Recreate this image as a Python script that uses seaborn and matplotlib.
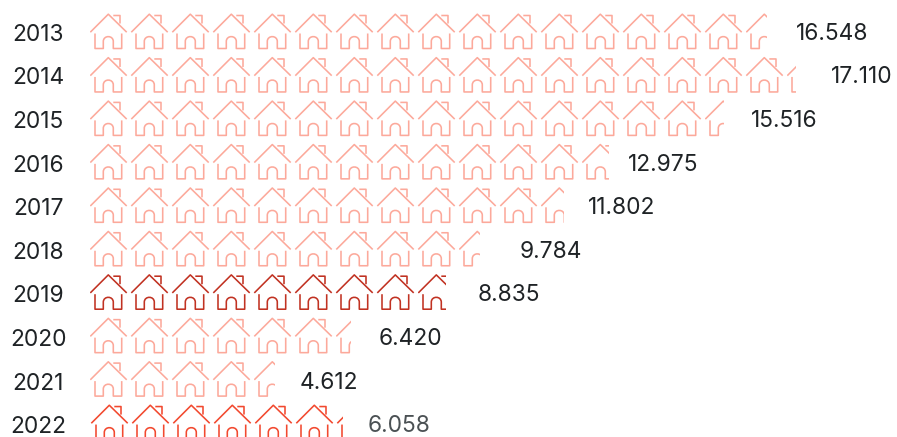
import numpy as np
import pandas as pd
import matplotlib
matplotlib.use("Agg")
import matplotlib.pyplot as plt
from matplotlib.path import Path
from matplotlib.patches import PathPatch, Rectangle
from matplotlib.transforms import ScaledTranslation
import seaborn as sn

years = ["2013", "2014", "2015", "2016", "2017", "2018", "2019", "2020", "2021", "2022"]
values = [16.548, 17.110, 15.516, 12.975, 11.802, 9.784, 8.835, 6.420, 4.612, 6.058]

# how much of the last house is shown, and gap before the label (pixels)
last_house_px = [21, 9, 19, 27, 23, 21, 28, 15, 21, 6]
label_gap_px = [27.5, 39.5, 24.8, 6, 14, 28, 25, 25, 21, 29]

light = "#fca99b"
colors = {"2019": "#c13222", "2022": "#f2492f"}

sn.set_theme(style="white")
plt.rcParams["font.family"] = ["Inter", "DejaVu Sans"]

HOUSE_STEP = 41.0
ROW_STEP = 43.45

# house icon drawn in pixels, 37 wide and 35 high
M, L, C = Path.MOVETO, Path.LINETO, Path.CURVE4
house = [
    # roof
    ((0.3, 18.7), M), ((18.3, 0.7), L), ((36.7, 18.7), L),
    # chimney
    ((23.3, 2.0), M), ((30.0, 2.0), L), ((30.0, 10.0), L),
    # walls and door
    ((5.0, 20.0), M), ((5.0, 35.0), L), ((13.3, 35.0), L), ((13.3, 28.0), L),
    ((13.3, 21.5), C), ((23.3, 21.5), C), ((23.3, 28.0), C),
    ((23.3, 35.0), L), ((31.7, 35.0), L), ((31.7, 20.0), L),
]
house_xy = np.array([p[0] for p in house])
house_codes = [p[1] for p in house]

df = pd.DataFrame({"year": years, "value": values})

fig = plt.figure(figsize=(8.97, 4.37), dpi=100)
ax = fig.add_axes([90 / 897, 0, 807 / 897, 1])
sn.barplot(data=df, x="value", y="year", order=years, color="white", alpha=0, ax=ax)

ax.set_xlim(0, 807 / HOUSE_STEP)
ax.set_ylim(406 / ROW_STEP, -31 / ROW_STEP)

for i, (year, value) in enumerate(zip(years, values)):
    color = colors.get(year, light)
    n_full = int(value)
    for k in range(n_full + 1):
        shift = 1.0 if year == "2022" else 0.0
        xs = k + (house_xy[:, 0] + shift) / HOUSE_STEP
        ys = i + (house_xy[:, 1] - 17.5) / ROW_STEP
        patch = PathPatch(Path(np.column_stack([xs, ys]), house_codes), fill=False,
                          edgecolor=color, linewidth=1.15, capstyle="butt", joinstyle="round",
                          snap=False)
        ax.add_patch(patch)
        if k == n_full:
            box = Rectangle((k, i - 0.5), (last_house_px[i] + shift) / HOUSE_STEP, 1,
                            transform=ax.transData)
            patch.set_clip_path(box)

    ax.annotate(f"{value:.3f}", (value, i), xytext=(label_gap_px[i], -2.8 - 0.15 * i),
                textcoords="offset pixels", ha="left", va="center", fontsize=16.4,
                color="#4b5154" if year == "2022" else "#1f2326")

ax.set_xlabel("")
ax.set_ylabel("")
ax.set_xticks([])
ax.tick_params(axis="y", length=0, pad=52 * 0.72, labelsize=16.4, labelcolor="#1f2326")
for i, lab in enumerate(ax.get_yticklabels()):
    lab.set_ha("center")
    # text rows sit a little lower than the house rows
    lab.set_transform(lab.get_transform() + ScaledTranslation(0, -(1.3 + 0.15 * i) / 100, fig.dpi_scale_trans))
sn.despine(ax=ax, left=True, bottom=True)

fig.savefig("out.png", dpi=100)
